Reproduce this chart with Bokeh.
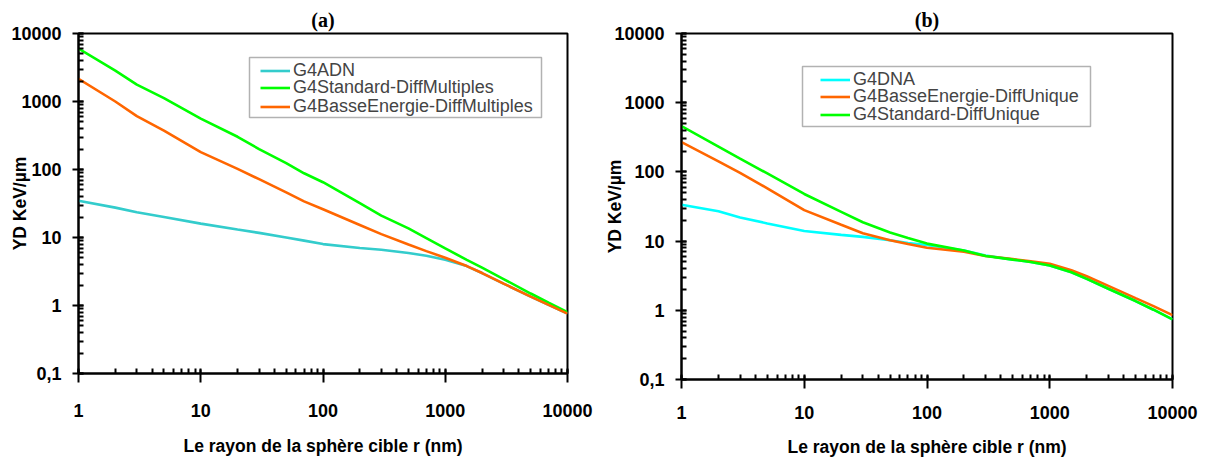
from bokeh.plotting import figure
from bokeh.layouts import row, column
from bokeh.models import Legend, LegendItem, CustomJSTickFormatter, BoxAnnotation
from bokeh.embed import file_html
from bokeh.resources import INLINE

# radius of target sphere (nm)
r = [1, 2, 3, 5, 10, 20, 30, 50, 70, 100, 200, 300, 500, 700, 1000, 1500, 2000, 3000, 5000, 7000, 10000]

# panel (a)
a_adn = [34.7, 27.5, 23.5, 20, 16, 13.1, 11.7, 10, 9, 8.0, 7.0, 6.6, 5.9, 5.4, 4.7, 3.8, 3.0, 2.1, 1.35, 1.02, 0.76]
a_std = [6000, 2850, 1770, 1120, 560, 303, 200, 124, 88, 65, 32, 21, 13.6, 9.8, 6.9, 4.7, 3.6, 2.45, 1.5, 1.1, 0.8]
a_be = [2160, 1000, 611, 374, 180, 102, 72, 46, 34, 26, 15.3, 11.2, 7.9, 6.3, 5.05, 3.8, 3.0, 2.1, 1.35, 1.02, 0.76]

# panel (b)
b_dna = [33.6, 27, 22, 18, 14, 12.3, 11.5, 10.3, 9.4, 8.8, 7.3, 6.2, 5.4, 5.0, 4.45, 3.55, 2.85, 2.05, 1.36, 1.02, 0.74]
b_be = [270, 142, 97, 58, 28, 17.2, 13.0, 10.3, 9.1, 8.0, 7.0, 6.1, 5.5, 5.1, 4.7, 3.8, 3.1, 2.25, 1.5, 1.15, 0.85]
b_std = [460, 232, 155, 95, 48, 26.5, 18.7, 13.3, 11.1, 9.2, 7.3, 6.1, 5.4, 5.0, 4.45, 3.55, 2.85, 2.05, 1.36, 1.02, 0.74]

a_names = ["G4ADN", "G4Standard-DiffMultiples", "G4BasseEnergie-DiffMultiples"]
b_names = ["G4DNA", "G4BasseEnergie-DiffUnique", "G4Standard-DiffUnique"]

xlabel = "Le rayon de la sphère cible r (nm)"
ylabel = "YD KeV/µm"

SANS = "Liberation Sans"
SERIF = "Liberation Serif"

fmt = CustomJSTickFormatter(code="""
if (tick < 1) { return (Math.round(tick*10)/10).toString().replace('.', ','); }
return Math.round(tick).toString();
""")


def make_panel(title, series, names, colors, W, bl, br, bb, fh,
               box, glyph_x, item_ys, tl_standoff, xl_standoff, yl_standoff):
    H = 468
    p = figure(width=W, height=H, x_axis_type="log", y_axis_type="log",
               x_range=(1, 10000), y_range=(0.1, 10000),
               output_backend="svg", toolbar_location=None,
               min_border_left=bl, min_border_right=br, min_border_top=H - bb - fh,
               min_border_bottom=bb)
    p.background_fill_color = "white"
    p.border_fill_color = "white"
    p.outline_line_color = "black"
    p.outline_line_width = 2
    p.xgrid.visible = False
    p.ygrid.visible = False

    p.title.text = title
    p.title.align = "center"
    p.title.text_font = SERIF
    p.title.text_font_style = "bold"
    p.title.text_font_size = "20px"
    p.title.text_color = "black"
    p.title.standoff = 6

    for ax in (p.xaxis[0], p.yaxis[0]):
        ax.axis_line_width = 2
        ax.axis_line_color = "black"
        ax.major_tick_line_width = 2
        ax.minor_tick_line_width = 2
        ax.minor_tick_in = 5
        ax.minor_tick_out = 0
        ax.major_label_text_font = SANS
        ax.major_label_text_font_style = "bold"
        ax.major_label_text_font_size = "18px"
        ax.major_label_text_color = "black"
        ax.axis_label_text_font = SANS
        ax.axis_label_text_font_style = "bold"
        ax.axis_label_text_font_size = "17.5px"
        ax.axis_label_text_color = "black"
        ax.formatter = fmt
    p.xaxis.major_tick_in = 4
    p.xaxis.major_tick_out = 9
    p.yaxis.major_tick_in = 5
    p.yaxis.major_tick_out = 6
    p.xaxis.major_label_standoff = tl_standoff
    p.yaxis.major_label_standoff = 11

    p.xaxis.axis_label = xlabel
    p.xaxis.axis_label_standoff = xl_standoff
    p.yaxis.axis_label = ylabel
    p.yaxis.axis_label_standoff = yl_standoff

    rends = []
    for ys, c in zip(series, colors):
        rr = p.line(r, ys, line_color=c, line_width=2.6)
        rends.append(rr)

    # legend frame
    bx0, bx1, by0, by1 = box
    p.add_layout(BoxAnnotation(left=bx0, right=bx1, bottom=by0, top=by1,
                               left_units="screen", right_units="screen",
                               bottom_units="screen", top_units="screen",
                               fill_color="white", fill_alpha=1,
                               line_color="black", line_width=1.5))
    # one legend per entry, so the entries can sit as close as in the original
    for n, rr, yc in zip(names, rends, item_ys):
        leg = Legend(items=[LegendItem(label=n, renderers=[rr])],
                     location=(glyph_x, yc - 10), padding=0, spacing=0, margin=0,
                     glyph_width=30, glyph_height=17, label_height=17, label_standoff=3,
                     label_text_font=SANS, label_text_font_size="18px",
                     border_line_color=None, background_fill_alpha=0)
        p.add_layout(leg)
    return p


pa = make_panel("(a)", [a_adn, a_std, a_be], a_names, ["#33CCCC", "#00FF00", "#FF6600"],
                W=600, bl=78, br=33, bb=95, fh=340,
                box=(171, 463, 256, 316), glyph_x=182, item_ys=[302, 285, 266],
                tl_standoff=21, xl_standoff=16, yl_standoff=-22)
pb = make_panel("(b)", [b_dna, b_be, b_std], b_names, ["#00FFFF", "#FF6600", "#00FF00"],
                W=604, bl=81, br=32, bb=89, fh=346,
                box=(121, 409, 253, 313), glyph_x=139, item_ys=[299, 282, 264],
                tl_standoff=17, xl_standoff=15, yl_standoff=-14)

layout = row(column(pa), column(pb))
open("out.html", "w").write(file_html(layout, INLINE))
